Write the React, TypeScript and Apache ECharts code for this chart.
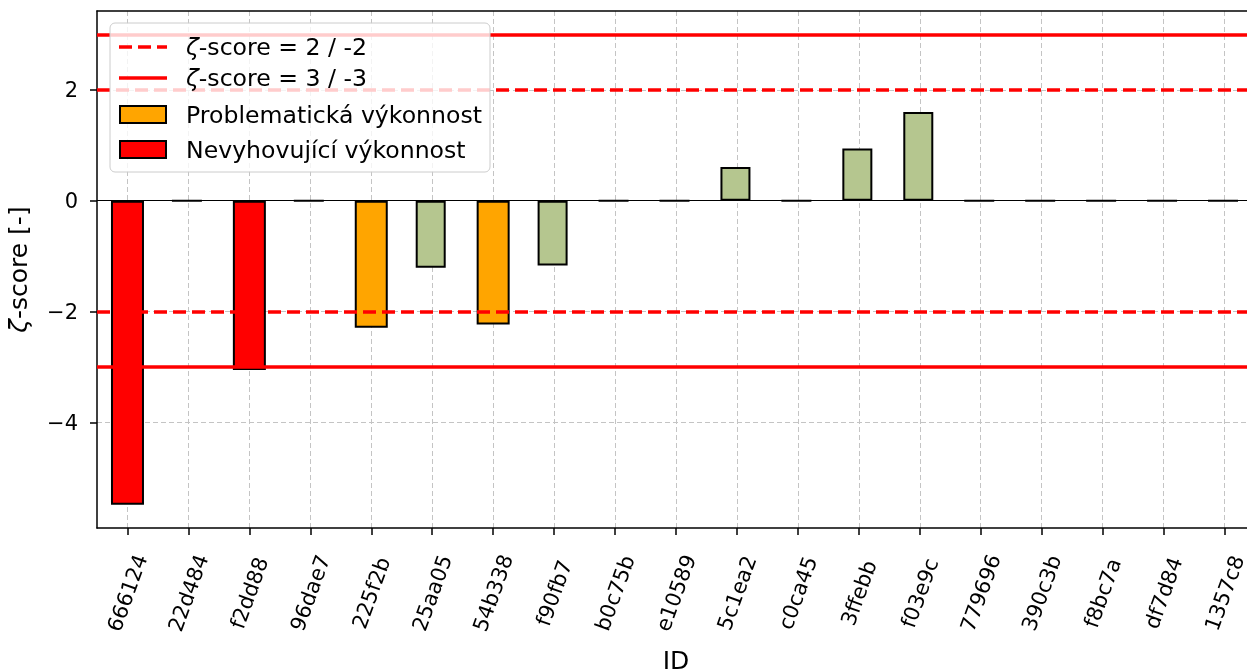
import React, { useEffect, useRef } from "react";
import * as echarts from "echarts";

const ids = ["666124", "22d484", "f2dd88", "96dae7", "225f2b", "25aa05", "54b338", "f90fb7", "b0c75b", "e10589", "5c1ea2", "c0ca45", "3ffebb", "f03e9c", "779696", "390c3b", "f8bc7a", "df7d84", "1357c8"];
const zScores = [-5.48, 0, -3.05, 0, -2.29, -1.21, -2.23, -1.17, 0, 0, 0.61, 0, 0.94, 1.6, 0, 0, 0, 0, 0];
const yTicks = [-4, -2, 0, 2];
const warnLevels = [2, -2];
const failLevels = [3, -3];
const legendLabels = ["ζ-score = 2 / -2", "ζ-score = 3 / -3", "Problematická výkonnost", "Nevyhovující výkonnost"];

const FONT = "DejaVu Sans";
const RED = "#ff0000";
const ORANGE = "#ffa500";
const GREEN = "#b5c68f";

function colorFor(v: number) {
  const a = Math.abs(v);
  if (a >= 3) return RED;
  if (a >= 2) return ORANGE;
  return GREEN;
}

export default function App() {
  const ref = useRef<HTMLDivElement>(null);
  useEffect(() => {
    if (!ref.current) return;
    const chart = echarts.init(ref.current, null, { renderer: "svg" });

    const bigData = zScores.map((v) => (Math.abs(v) >= 2 ? { value: v, itemStyle: { color: colorFor(v) } } : "-"));
    const smallData = zScores.map((v) => (Math.abs(v) < 2 ? { value: v, itemStyle: { color: colorFor(v) } } : "-"));

    const lx = 110, ly = 23;
    const rowY = [47, 78, 114.5, 149.5];
    const legend: any[] = [
      {
        type: "rect",
        shape: { x: lx, y: ly, width: 380, height: 149, r: 5 },
        style: { fill: "rgba(255,255,255,0.8)", stroke: "#cccccc", lineWidth: 1 },
        z: 100,
      },
      {
        type: "line",
        shape: { x1: 119, y1: rowY[0], x2: 167, y2: rowY[0] },
        style: { stroke: RED, lineWidth: 3.5, lineDash: [13, 6] },
        z: 101,
      },
      {
        type: "line",
        shape: { x1: 119, y1: rowY[1], x2: 167, y2: rowY[1] },
        style: { stroke: RED, lineWidth: 3.5 },
        z: 101,
      },
      {
        type: "rect",
        shape: { x: 120, y: rowY[2] - 8.5, width: 46, height: 17 },
        style: { fill: ORANGE, stroke: "#000", lineWidth: 2 },
        z: 101,
      },
      {
        type: "rect",
        shape: { x: 120, y: rowY[3] - 8.5, width: 46, height: 17 },
        style: { fill: RED, stroke: "#000", lineWidth: 2 },
        z: 101,
      },
    ];
    legendLabels.forEach((t, i) => {
      const isZ = t.startsWith("ζ");
      legend.push({
        type: "text",
        x: 186,
        y: rowY[i],
        style: {
          text: isZ ? "{i|ζ}" + t.slice(1) : t,
          fontFamily: FONT,
          fontSize: 23.6,
          fill: "#000",
          verticalAlign: "middle",
          align: "left",
          rich: { i: { fontStyle: "italic", fontFamily: FONT, fontSize: 23.6 } },
        },
        z: 101,
      });
    });

    const gridLine = { show: true, lineStyle: { color: "#c4c4c4", width: 1, type: [5, 3] as any } };

    chart.setOption({
      animation: false,
      grid: { left: 97, top: 11, width: 1158, height: 517, containLabel: false, outerBoundsMode: "none" },
      xAxis: [
        {
          type: "category",
          data: ids,
          boundaryGap: true,
          name: "ID",
          nameLocation: "middle",
          nameGap: 122,
          nameTextStyle: { fontFamily: FONT, fontSize: 25, color: "#000", lineHeight: 20 },
          axisLine: { show: true, onZero: false, lineStyle: { color: "#000", width: 1.5 } },
          axisTick: { show: true, alignWithLabel: true, length: 7, lineStyle: { color: "#000", width: 1.5 } },
          axisLabel: {
            interval: 0,
            rotate: 70,
            align: "center",
            verticalAlign: "middle",
            margin: 65,
            fontFamily: FONT,
            fontSize: 21,
            color: "#000",
          },
          splitLine: { ...gridLine, alignWithLabel: true, interval: 0 },
        },
        {
          type: "category",
          data: ids,
          position: "top",
          axisLine: { show: true, onZero: false, lineStyle: { color: "#000", width: 1.5 } },
          axisTick: { show: false },
          axisLabel: { show: false },
          splitLine: { show: false },
        },
      ],
      yAxis: {
        type: "value",
        min: -5.9,
        max: 3.42,
        name: "{i|ζ}-score [-]",
        nameLocation: "middle",
        nameGap: 66,
        nameTextStyle: {
          fontFamily: FONT,
          fontSize: 25,
          color: "#000",
          rich: { i: { fontStyle: "italic", fontFamily: FONT, fontSize: 25 } },
        },
        axisLine: { show: true, onZero: false, lineStyle: { color: "#000", width: 1.5 } },
        axisTick: { show: true, length: 7, customValues: yTicks, lineStyle: { color: "#000", width: 1.5 } },
        axisLabel: {
          customValues: yTicks,
          margin: 19,
          fontFamily: FONT,
          fontSize: 21,
          color: "#000",
          formatter: (v: number) => String(v).replace("-", "\u2212"),
        },
        splitLine: gridLine,
      },
      series: [
        {
          type: "line",
          data: ids.map(() => null),
          symbol: "none",
          silent: true,
          z: 1,
          markLine: {
            silent: true,
            symbol: ["none", "none"],
            label: { show: false },
            animation: false,
            data: [
              ...warnLevels.map((v) => ({ yAxis: v, lineStyle: { color: RED, width: 3.5, type: [13, 6] as any } })),
              ...failLevels.map((v) => ({ yAxis: v, lineStyle: { color: RED, width: 3.5, type: "solid" } })),
              { yAxis: 0, lineStyle: { color: "#000", width: 1.2, type: "solid" } },
            ],
          },
        },
        {
          type: "bar",
          data: smallData,
          barWidth: 30,
          barGap: "-100%",
          z: 3,
          itemStyle: { borderColor: "#000", borderWidth: 2 },
        },
        {
          type: "bar",
          data: bigData,
          barWidth: 33,
          barGap: "-100%",
          z: 3,
          itemStyle: { borderColor: "#000", borderWidth: 2 },
        },
      ],
      graphic: legend,
    });
    return () => chart.dispose();
  }, []);
  return <div ref={ref} style={{ position: "fixed", left: 0, top: 0, width: 1247, height: 670 }} />;
}
